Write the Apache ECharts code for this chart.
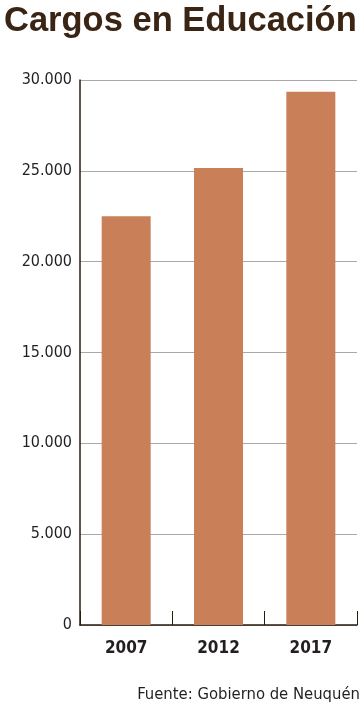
<!DOCTYPE html>
<html><head><meta charset="utf-8">
<script src="https://cdn.jsdelivr.net/npm/echarts@6/dist/echarts.min.js"></script>
<style>html,body{margin:0;padding:0;background:#fff}#c{width:362px;height:704px}</style>
</head><body><div id="c"></div>
<script>
const categories = ['2007', '2012', '2017'];
const values = [22500, 25150, 29350];
const yTicks = [0, 5000, 10000, 15000, 20000, 25000, 30000];

function fmt(v){ return v === 0 ? '0' : String(v).replace(/\B(?=(\d{3})+(?!\d))/g, '.'); }

const chart = echarts.init(document.getElementById('c'), null, {renderer:'canvas'});
chart.setOption({
  animation:false,
  backgroundColor:'#fff',
  title:[{
    text:'Cargos en Educación', left:4, top:4, padding:0,
    textStyle:{fontFamily:'"Liberation Sans", Arial, sans-serif', fontWeight:'bold', fontSize:34.5, color:'#3a2414'}
  },{
    text:'Fuente: Gobierno de Neuquén', right:2, top:686, padding:0,
    textStyle:{fontFamily:'"Liberation Sans Narrow","DejaVu Sans Condensed", "Roboto Condensed", sans-serif', fontWeight:'normal', fontSize:16.5, color:'#231f20'}
  }],
  grid:{left:80, right:5, top:80, bottom:79, containLabel:false},
  xAxis:{
    type:'category', data:categories,
    axisLine:{lineStyle:{color:'#2b1a0e', width:1.5}},
    axisTick:{show:true, inside:true, length:14, lineStyle:{color:'#2b1a0e', width:1}},
    axisLabel:{margin:15, fontFamily:'"Liberation Sans Narrow","DejaVu Sans Condensed", sans-serif', fontWeight:'bold', fontSize:17, color:'#231f20'}
  },
  yAxis:{
    type:'value', min:yTicks[0], max:yTicks[yTicks.length-1], interval:5000,
    axisLine:{show:true, lineStyle:{color:'#2b1a0e', width:1.5}},
    axisTick:{show:false},
    splitLine:{lineStyle:{color:'#aaaaaa', width:1}},
    axisLabel:{margin:8, formatter:fmt, fontFamily:'"Liberation Sans Narrow","DejaVu Sans Condensed", sans-serif', fontSize:16, color:'#231f20'}
  },
  series:[{
    type:'bar', data:values, barWidth:49,
    itemStyle:{color:'#c97f58'}
  }]
});
</script></body></html>
